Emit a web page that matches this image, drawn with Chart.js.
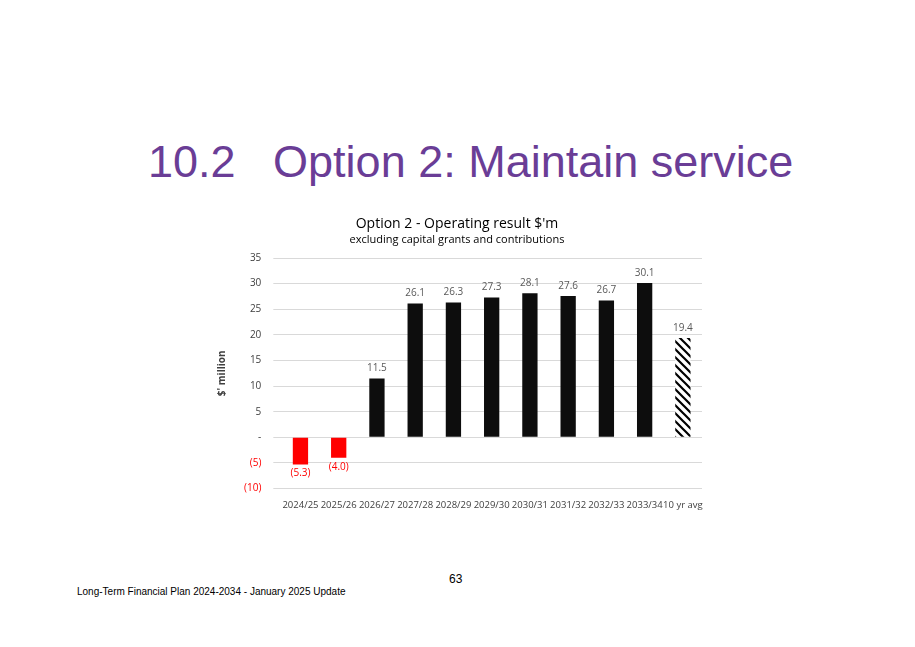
<!DOCTYPE html>
<html>
<head>
<meta charset="utf-8">
<script src="https://cdn.jsdelivr.net/npm/chart.js@4/dist/chart.umd.min.js"></script>
<style>
  body{margin:0;background:#fff;width:915px;height:647px;position:relative;overflow:hidden;font-family:"Liberation Sans",Arial,sans-serif;}
  #titulo{position:absolute;left:148px;top:136px;font-size:45px;color:#6a3d96;white-space:pre;}
  #pagina{position:absolute;left:449px;top:572px;font-size:12px;color:#000;}
  #pie{position:absolute;left:77px;top:586px;font-size:10px;color:#000;}
  #caja{position:absolute;left:212px;top:214px;width:494px;height:300px;}
</style>
</head>
<body>
<div id="titulo">10.2   Option 2: Maintain service</div>
<div id="caja"><canvas id="grafica"></canvas></div>
<div id="pagina">63</div>
<div id="pie">Long-Term Financial Plan 2024-2034 - January 2025 Update</div>
<script>
// Datos de la grafica
const categorias = ['2024/25','2025/26','2026/27','2027/28','2028/29','2029/30','2030/31','2031/32','2032/33','2033/34','10 yr avg'];
const valores = [-5.3, -4.0, 11.5, 26.1, 26.3, 27.3, 28.1, 27.6, 26.7, 30.1, 19.4];

function fmt(v){
  return v < 0 ? '(' + Math.abs(v).toFixed(1) + ')' : v.toFixed(1);
}

// Patron rayado para el promedio
function rayado(){
  const c = document.createElement('canvas'); c.width = 8; c.height = 8;
  const g = c.getContext('2d');
  g.fillStyle = '#fff'; g.fillRect(0,0,8,8);
  g.strokeStyle = '#000'; g.lineWidth = 2.2;
  g.beginPath();
  g.moveTo(0,0); g.lineTo(8,8);
  g.moveTo(-4,4); g.lineTo(4,12);
  g.moveTo(4,-4); g.lineTo(12,4);
  g.stroke();
  return g.createPattern(c,'repeat');
}
const colores = valores.map((v,i) => i === valores.length-1 ? rayado() : (v < 0 ? '#ff0000' : '#0d0d0d'));

// Etiquetas sobre las barras
const etiquetas = {
  id:'etiquetas',
  afterDatasetsDraw(chart){
    const ctx = chart.ctx;
    const meta = chart.getDatasetMeta(0);
    ctx.save();
    ctx.font = '10px "Open Sans", sans-serif';
    ctx.textAlign = 'center';
    meta.data.forEach((bar,i) => {
      const v = valores[i];
      if(v < 0){
        ctx.fillStyle = '#ff0000'; ctx.textBaseline = 'top';
        ctx.fillText(fmt(v), bar.x, bar.y + 4);
      } else {
        ctx.fillStyle = '#595959'; ctx.textBaseline = 'bottom';
        ctx.fillText(fmt(v), bar.x, bar.y - 5);
      }
    });
    ctx.restore();
  }
};

new Chart(document.getElementById('grafica'), {
  type:'bar',
  data:{ labels:categorias, datasets:[{ data:valores, backgroundColor:colores, barPercentage:0.4, categoryPercentage:1 }] },
  options:{
    responsive:true, maintainAspectRatio:false, animation:false,
    layout:{ padding:{ right:4 } },
    plugins:{
      legend:{ display:false }, tooltip:{ enabled:false },
      title:{ display:true, text:"Option 2 - Operating result $'m", color:'#000', font:{ family:'"Open Sans", sans-serif', size:14, weight:'normal' }, padding:{ top:2, bottom:0 } },
      subtitle:{ display:true, text:'excluding capital grants and contributions', color:'#000', font:{ family:'"Open Sans", sans-serif', size:11 }, padding:{ top:0, bottom:12 } }
    },
    scales:{
      x:{ grid:{ display:false, drawBorder:false }, border:{ display:false },
          ticks:{ color:'#404040', font:{ family:'"Open Sans", sans-serif', size:9.5 }, maxRotation:0, autoSkip:false } },
      y:{ min:-10, max:35, border:{ display:false },
          grid:{ color:'#d9d9d9', lineWidth:1 },
          title:{ display:true, text:"$' million", color:'#404040', font:{ family:'"Open Sans", sans-serif', size:10, weight:'bold' } },
          ticks:{ stepSize:5, padding:12,
            color:(c) => c.tick.value < 0 ? '#ff0000' : '#404040',
            font:{ family:'"Open Sans", sans-serif', size:10 },
            callback:(v) => v === 0 ? '-' : (v < 0 ? '(' + Math.abs(v) + ')' : v) } }
    }
  },
  plugins:[etiquetas]
});
</script>
</body>
</html>
